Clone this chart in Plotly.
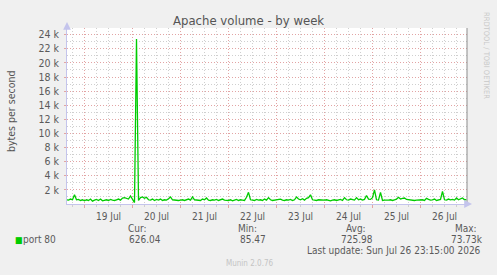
import pandas as pd
import plotly.graph_objects as go

# ---------------- data ----------------
start_time = "2026-07-18 15:00"          # first hourly sample
range_start = "2026-07-18 15:15"
range_end = "2026-07-26 23:15"

# bytes per second, hourly samples (Jul 18 15:00 ... Jul 26 23:00)
jul18 = [600, 550, 700, 600, 1300, 600, 650, 500, 600]
jul19 = [450, 600, 500, 700, 400, 550, 650, 500, 700, 450, 550, 600,
         500, 650, 550, 500, 600, 700, 550, 850, 900, 800, 700, 1150]
jul20 = [600, 200, 23400, 500, 900, 1000, 800, 950, 600, 550, 700, 500,
         650, 550, 700, 500, 600, 550, 750, 1000, 600, 550, 600, 500]
jul21 = [550, 600, 500, 650, 700, 550, 1000, 600, 550, 600, 500, 700,
         600, 850, 550, 500, 600, 550, 650, 500, 600, 700, 550, 500]
jul22 = [500, 600, 450, 550, 650, 500, 600, 550, 500, 950, 1650, 600,
         550, 500, 650, 550, 600, 500, 700, 550, 900, 600, 500, 550]
jul23 = [500, 600, 700, 550, 500, 600, 550, 650, 500, 600, 1000, 700,
         600, 750, 550, 800, 900, 1300, 600, 550, 500, 600, 550, 500]
jul24 = [550, 600, 500, 450, 550, 600, 500, 550, 650, 500, 900, 600,
         550, 700, 600, 550, 900, 600, 700, 550, 650, 1200, 700, 650]
jul25 = [900, 2000, 600, 550, 1650, 500, 550, 500, 550, 600, 500, 600,
         700, 950, 700, 800, 850, 650, 600, 550, 600, 500, 550, 600]
jul26 = [550, 600, 500, 800, 650, 550, 600, 700, 500, 600, 650, 1800,
         600, 550, 700, 600, 650, 550, 850, 600, 700, 850, 600, 626]
port80 = jul18 + jul19 + jul20 + jul21 + jul22 + jul23 + jul24 + jul25 + jul26
times = pd.date_range(start_time, periods=len(port80), freq="h")

y_tickvals = [2000, 4000, 6000, 8000, 10000, 12000, 14000, 16000, 18000, 20000, 22000, 24000]
y_ticktext = ["2 k", "4 k", "6 k", "8 k", "10 k", "12 k", "14 k", "16 k", "18 k", "20 k", "22 k", "24 k"]
y_max = 24950

title = "Apache volume - by week"
y_title = "bytes per second"
series_name = "port 80"
stat_labels = ["Cur:", "Min:", "Avg:", "Max:"]
stat_values = ["626.04", "85.47", "725.98", "73.73k"]
last_update = "Last update: Sun Jul 26 23:15:00 2026"
footer = "Munin 2.0.76"
watermark = "RRDTOOL / TOBI OETIKER"

# ---------------- styles ----------------
W, H = 497, 275
L, R, T, B = 67, 467, 28, 204
FONT = "DejaVu Sans Condensed, DejaVu Sans, sans-serif"
TXT = "#5a5a5a"
GREEN = "#00CC00"
MGRID = "#E2A4A4"
GRID = "#CFCFCF"
AXIS = "#C4C4EC"


def px(X):
    return (X - L) / (R - L)


def py(Y):
    return (B - Y) / (B - T)


fig = go.Figure()
fig.add_trace(go.Scatter(x=times, y=port80, mode="lines",
                         line=dict(color=GREEN, width=1.3), showlegend=False,
                         hoverinfo="skip"))

fig.update_layout(
    width=W, height=H,
    margin=dict(l=L, r=W - R, t=T, b=H - B, pad=0),
    paper_bgcolor="#F0F0F0", plot_bgcolor="#FFFFFF",
    font=dict(family=FONT, color=TXT, size=10),
    showlegend=False,
)

fig.update_xaxes(
    type="date", range=[range_start, range_end],
    tick0="2026-07-19", dtick=86400000, ticklabelmode="period",
    tickformat="%d %b", tickfont=dict(size=10, color=TXT),
    showgrid=True, gridcolor=MGRID, griddash="1px,2px", gridwidth=1,
    ticks="outside", ticklen=3, tickcolor=MGRID,
    showline=True, linecolor=AXIS, linewidth=1, zeroline=False,
    minor=dict(dtick=6 * 3600 * 1000, tick0="2026-07-19", showgrid=True,
               gridcolor=GRID, griddash="1px,2px", ticks="outside",
               ticklen=2, tickcolor=GRID),
)
fig.update_yaxes(
    range=[0, y_max], tickvals=y_tickvals, ticktext=y_ticktext,
    tickfont=dict(size=10.5, color=TXT),
    showgrid=True, gridcolor=MGRID, griddash="1px,2px", gridwidth=1,
    ticks="outside", ticklen=2, tickcolor=MGRID, ticklabelstandoff=3,
    showline=True, linecolor=AXIS, linewidth=1, zeroline=False,
    minor=dict(dtick=1000, showgrid=True, gridcolor=GRID, griddash="1px,2px"),
)

# right frame line
fig.add_shape(type="line", xref="paper", yref="paper", x0=1, x1=1, y0=0, y1=1,
              line=dict(color="#8C8C8C", width=1))

ann = []
# title
ann.append(dict(text=title, x=px(248.5), y=py(21), xanchor="center", yanchor="middle",
                font=dict(size=13, color="#555555")))
# y title
ann.append(dict(text=y_title, x=px(11), y=py(111), xanchor="center", yanchor="middle",
                textangle=-90, font=dict(size=10.5, color="#555555")))
# watermark
ann.append(dict(text=watermark, x=px(487), y=py(55), xanchor="center", yanchor="middle",
                textangle=90, font=dict(size=7.5, color="#C8C8C8")))
# axis arrows
ann.append(dict(text="", x=0, y=py(22), ax=0, ay=7, showarrow=True, arrowhead=2,
                arrowsize=1.3, arrowwidth=1.2, arrowcolor=AXIS))
ann.append(dict(text="", x=px(472), y=0, ax=-7, ay=0, showarrow=True, arrowhead=2,
                arrowsize=1.3, arrowwidth=1.2, arrowcolor=AXIS))
# legend
ann.append(dict(text="■", x=px(13), y=py(239.5), xanchor="left", yanchor="middle",
                font=dict(size=9, color=GREEN)))
ann.append(dict(text=series_name, x=px(20.5), y=py(239.5), xanchor="left", yanchor="middle",
                font=dict(size=10, color=TXT)))
label_x = [137.5, 247, 356, 466]
value_x = [144.5, 252.5, 357, 466.5]
for lab, lx in zip(stat_labels, label_x):
    ann.append(dict(text=lab, x=px(lx), y=py(228.5), xanchor="center", yanchor="middle",
                    font=dict(size=10, color=TXT)))
for val, vx in zip(stat_values, value_x):
    ann.append(dict(text=val, x=px(vx), y=py(239.5), xanchor="center", yanchor="middle",
                    font=dict(size=10, color=TXT)))
ann.append(dict(text=last_update, x=px(482.5), y=py(250.5), xanchor="right", yanchor="middle",
                font=dict(size=10, color=TXT)))
ann.append(dict(text=footer, x=px(249), y=py(263), xanchor="center", yanchor="middle",
                font=dict(size=8, color="#C4C4C4")))

for a in ann:
    a.setdefault("xref", "paper")
    a.setdefault("yref", "paper")
    a.setdefault("showarrow", False)
fig.update_layout(annotations=ann)

fig.write_html("out.html")
